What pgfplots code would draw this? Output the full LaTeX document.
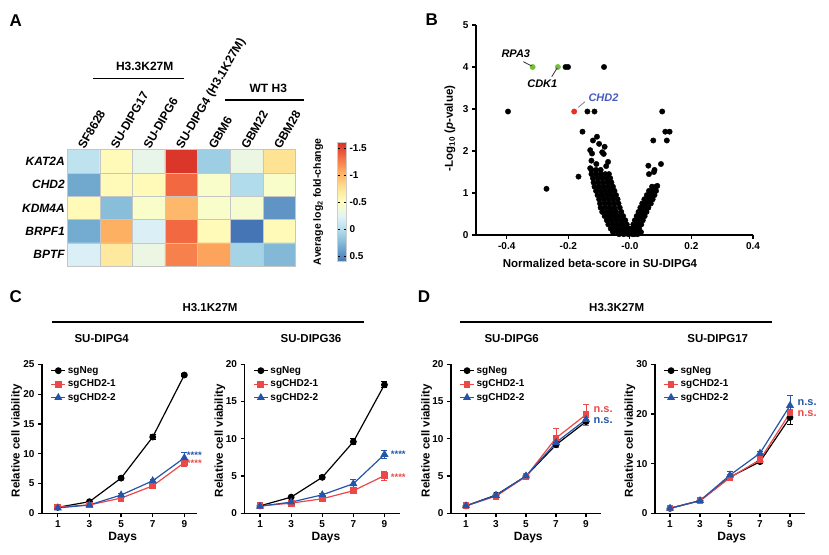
\documentclass[border=0pt]{standalone}
\usepackage{fontspec}
\setmainfont{Liberation Sans}
\usepackage{pgfplots}
\usepackage{pgfplotstable}
\pgfplotsset{compat=1.18}
\newcommand{\fs}[1]{\fontsize{#1pt}{#1pt}\selectfont}
\definecolor{pred}{RGB}{236,72,72}
\definecolor{pblue}{RGB}{35,85,170}
\definecolor{pgreen}{RGB}{120,190,60}
\definecolor{chdblue}{RGB}{70,90,190}
\definecolor{redpt}{RGB}{235,45,40}
\pgfplotsset{
  colormap={rdylbu}{rgb255=(215,48,39) rgb255=(244,109,67) rgb255=(253,174,97) rgb255=(254,224,144) rgb255=(255,255,191) rgb255=(224,243,248) rgb255=(171,217,233) rgb255=(116,173,209) rgb255=(69,117,180)},
  error bars/error bar style={line width=1pt},
  error bars/error mark options={rotate=90, mark size=3pt, line width=1pt},
  prism/.style={scale only axis, anchor=south west, height=149pt,
    axis x line*=bottom, axis y line*=left,
    axis line style={line width=1.2pt, -},
    every tick/.style={line width=1.2pt, black},
    tick align=outside, major tick length=4pt,
    ymin=0, xmin=0, xtick={1,3,5,7,9},
    tick label style={font=\bfseries\fs{10}},
    /pgf/number format/assume math mode=true, clip=false,
    legend style={draw=none, fill=none, font=\bfseries\fs{10}, at={(0.055,1.0)}, anchor=north west, row sep=1pt, inner sep=0pt},
    legend cell align=left,
    legend image code/.code={\draw[mark repeat=2,mark phase=2] plot coordinates {(0pt,0pt) (7pt,0pt) (14pt,0pt)};}},
  sneg/.style={black, line width=1.2pt, mark=*, mark size=2.8pt, error bars/.cd, y dir=both, y explicit},
  sa/.style={pred, line width=1.2pt, mark=square*, mark size=2.8pt, error bars/.cd, y dir=both, y explicit},
  sb/.style={pblue, line width=1.2pt, mark=triangle*, mark size=3.5pt, error bars/.cd, y dir=both, y explicit},
}
\pgfplotstableread{
x y c
0 0 -0.05
1 0 -0.55
2 0 -0.30
3 0 -1.58
4 0 0.12
5 0 -0.33
6 0 -0.75
0 1 0.35
1 1 -0.55
2 1 -0.55
3 1 -1.35
4 1 -0.45
5 1 0.02
6 1 -0.45
0 2 -0.55
1 2 0.22
2 2 -0.45
3 2 -1.00
4 2 -0.45
5 2 -0.42
6 2 0.45
0 3 0.33
1 3 -1.05
2 3 -0.20
3 3 -1.35
4 3 -0.55
5 3 0.60
6 3 -0.55
0 4 -0.20
1 4 -0.70
2 4 -0.33
3 4 -1.25
4 4 -1.10
5 4 0.08
6 4 0.25
}\heat
\begin{document}
\begin{tikzpicture}
\useasboundingbox (0pt,0pt) rectangle (829pt,554pt);
% ---------------- Panel A ----------------
\node[font=\bfseries\fs{17}] at (15.8pt,533.3pt) {A};
\begin{axis}[at={(67.3pt,287.7pt)}, anchor=south west, scale only axis,
  width=228.4pt, height=116.7pt,
  xmin=-0.5, xmax=6.5, ymin=-0.5, ymax=4.5, y dir=reverse,
  xtick={0,...,6}, xticklabels={SF8628,SU-DIPG17,SU-DIPG6,SU-DIPG4 (H3.1K27M),GBM6,GBM22,GBM28},
  xticklabel pos=upper,
  xticklabel style={rotate=60, anchor=base west, font=\bfseries\fs{12}, xshift=-3pt, yshift=-1pt},
  ytick={0,...,4}, yticklabels={KAT2A,CHD2,KDM4A,BRPF1,BPTF},
  yticklabel style={font=\bfseries\itshape\fs{12}, xshift=1pt},
  major tick length=0pt, minor tick length=0pt,
  minor xtick={0.5,1.5,...,5.5}, minor ytick={0.5,1.5,...,3.5},
  xminorgrids, yminorgrids, minor grid style={gray!45, line width=0.8pt},
  axis line style={gray!45, line width=0.8pt}, axis on top,
  colormap name=rdylbu, point meta min=-1.61, point meta max=0.60,
  colorbar,
  colorbar style={at={(parent axis.north east)}, anchor=north west, xshift=32.8pt, yshift=7.5pt,
    scale only axis, width=9pt, height=119.5pt, y dir=reverse,
    ytick={-1.5,-1,-0.5,0,0.5}, yticklabels={-1.5,-1,-0.5,0,0.5},
    yticklabel style={font=\bfseries\fs{10}},
    major tick length=2.5pt, axis line style={gray!40},
    every tick/.style={black, line width=0.8pt}}]
\addplot[matrix plot*, point meta=explicit, mesh/cols=7] table[meta=c] {\heat};
\end{axis}
\node[font=\bfseries\fs{12}] at (144.7pt,487.3pt) {H3.3K27M};
\draw[line width=1.1pt] (93.3pt,475.7pt) -- (184pt,475.7pt);
\node[font=\bfseries\fs{12}] at (268.3pt,465.7pt) {WT H3};
\draw[line width=1.1pt] (225pt,454pt) -- (304pt,454pt);
\node[rotate=90, font=\bfseries\fs{10.5}] at (318.3pt,352.3pt) {Average log\textsubscript{2} fold-change};
% ---------------- Panel B ----------------
\node[font=\bfseries\fs{17}] at (431.7pt,534pt) {B};
\begin{axis}[at={(476pt,319pt)}, anchor=south west, scale only axis, width=277pt, height=210pt,
  xmin=-0.5, xmax=0.4, ymin=0, ymax=5,
  axis x line*=bottom, axis y line*=left,
  axis line style={line width=1.2pt, -},
  every tick/.style={line width=1.2pt, black},
  tick align=outside, major tick length=4pt,
  xtick={-0.4,-0.2,0,0.2,0.4}, xticklabels={-0.4,-0.2,-0.0,0.2,0.4},
  ytick={0,1,...,5},
  tick label style={font=\bfseries\fs{10}},
  /pgf/number format/assume math mode=true, clip=false]
\addplot[only marks, mark=*, mark size=2.7pt, black] coordinates {
(-0.125,1.55) (-0.11,1.55) (-0.095,1.55)
(-0.125,1.45) (-0.11,1.45) (-0.095,1.45) (-0.08,1.45) (-0.068,1.45)
(-0.12,1.35) (-0.105,1.35) (-0.09,1.35) (-0.075,1.35) (-0.064,1.35)
(-0.118,1.25) (-0.103,1.25) (-0.088,1.25) (-0.073,1.25) (-0.06,1.25)
(-0.115,1.15) (-0.1,1.15) (-0.085,1.15) (-0.07,1.15) (-0.055,1.15)
(-0.11,1.05) (-0.095,1.05) (-0.08,1.05) (-0.065,1.05) (-0.05,1.05)
(-0.105,0.95) (-0.09,0.95) (-0.075,0.95) (-0.06,0.95) (-0.045,0.95)
(-0.1,0.85) (-0.085,0.85) (-0.07,0.85) (-0.055,0.85) (-0.04,0.85)
(-0.097,0.75) (-0.082,0.75) (-0.067,0.75) (-0.052,0.75) (-0.037,0.75)
(-0.095,0.65) (-0.08,0.65) (-0.065,0.65) (-0.05,0.65) (-0.033,0.65)
(-0.09,0.55) (-0.075,0.55) (-0.06,0.55) (-0.045,0.55) (-0.028,0.55)
(-0.082,0.45) (-0.067,0.45) (-0.052,0.45) (-0.037,0.45) (-0.022,0.45)
(-0.075,0.35) (-0.06,0.35) (-0.045,0.35) (-0.03,0.35) (-0.015,0.35)
(-0.07,0.25) (-0.055,0.25) (-0.04,0.25) (-0.025,0.25) (-0.01,0.25)
(-0.062,0.15) (-0.047,0.15) (-0.032,0.15) (-0.017,0.15) (-0.003,0.15)
(-0.055,0.07) (-0.04,0.07) (-0.025,0.07) (-0.01,0.07) (0.003,0.07)
(-0.035,0.02) (-0.02,0.02) (-0.005,0.02) (0.008,0.02)
(0.072,1.15) (0.085,1.15)
(0.062,1.05) (0.075,1.05) (0.085,1.05)
(0.055,0.95) (0.068,0.95) (0.08,0.95)
(0.047,0.85) (0.06,0.85) (0.074,0.85)
(0.04,0.75) (0.054,0.75) (0.068,0.75)
(0.034,0.65) (0.047,0.65) (0.06,0.65)
(0.028,0.55) (0.041,0.55) (0.054,0.55)
(0.022,0.45) (0.035,0.45) (0.048,0.45)
(0.016,0.35) (0.029,0.35) (0.042,0.35)
(0.011,0.25) (0.024,0.25) (0.037,0.25)
(0.006,0.15) (0.018,0.15) (0.03,0.15)
(0.0,0.07) (0.012,0.07) (0.024,0.07) (0.036,0.07)
(0.015,0.02) (0.025,0.02)
(-0.209,4.0) (-0.201,4.0) (-0.084,4.0)
(-0.396,2.94) (-0.138,2.94) (-0.115,2.94) (0.105,2.94)
(-0.154,2.46) (0.115,2.46) (0.129,2.46)
(-0.271,1.10) (-0.167,1.39)
(0.076,2.25) (0.120,2.25) (0.101,1.69) (0.060,1.65) (0.080,1.55) (0.078,1.50) (0.062,1.45) (0.089,1.17)
(-0.107,2.34) (-0.12,2.25) (-0.10,2.17) (-0.082,2.10) (-0.129,2.02) (-0.123,1.94) (-0.09,1.97) (-0.085,1.93)
(-0.125,1.77) (-0.071,1.74) (-0.077,1.64) (-0.109,1.69) (-0.129,1.59)
};
\addplot[only marks, mark=*, mark size=2.7pt, pgreen] coordinates {(-0.316,4.0) (-0.234,4.0)};
\addplot[only marks, mark=*, mark size=2.7pt, redpt] coordinates {(-0.181,2.94)};
\end{axis}
\node[rotate=90, font=\bfseries\fs{11.5}] at (450pt,425.7pt) {-Log\textsubscript{10} (\textit{p}-value)};
\node[font=\bfseries\fs{11.5}] at (600pt,290.7pt) {Normalized beta-score in SU-DIPG4};
\node[font=\bfseries\itshape\fs{11}] at (515.8pt,500.7pt) {RPA3};
\node[font=\bfseries\itshape\fs{11}] at (542.3pt,470.7pt) {CDK1};
\node[font=\bfseries\itshape\fs{11}, text=chdblue] at (603.5pt,456.7pt) {CHD2};
\draw[black!80, line width=0.8pt] (523.3pt,492.3pt) -- (531.7pt,488pt);
\draw[black!80, line width=0.8pt] (551.7pt,477.3pt) -- (557.3pt,486.3pt);
\draw[gray, line width=0.8pt] (578.3pt,446.7pt) -- (585pt,452.3pt);
% ---------------- Panel C ----------------
\node[font=\bfseries\fs{17}] at (15.8pt,257.3pt) {C};
\node[font=\bfseries\fs{11.5}] at (210pt,246pt) {H3.1K27M};
\draw[line width=1.1pt] (52pt,232pt) -- (364pt,232pt);
\node[font=\bfseries\fs{11.5}] at (101.7pt,215pt) {SU-DIPG4};
\node[font=\bfseries\fs{11.5}] at (311pt,215pt) {SU-DIPG36};
\begin{axis}[prism, at={(42pt,40.7pt)}, width=155pt, xmax=9.8, ymax=25, ytick={0,5,...,25}]
\addplot[sneg] coordinates {(1,1.0) +- (0,0.1) (3,1.95) +- (0,0.1) (5,5.9) +- (0,0.2) (7,12.8) +- (0,0.5) (9,23.2) +- (0,0.3)};
\addplot[sa] coordinates {(1,1.05) +- (0,0.2) (3,1.4) +- (0,0.1) (5,2.55) +- (0,0.2) (7,4.6) +- (0,0.5) (9,8.5) +- (0,0.7)};
\addplot[sb] coordinates {(1,0.9) +- (0,0.1) (3,1.4) +- (0,0.1) (5,3.07) +- (0,0.2) (7,5.45) +- (0,0.3) (9,9.3) +- (0,0.9)};
\legend{sgNeg,sgCHD2-1,sgCHD2-2}
\node[anchor=west, text=pblue, font=\bfseries\fs{9.5}, inner sep=0pt] at (axis cs:9.15,9.8) {****};
\node[anchor=west, text=pred, font=\bfseries\fs{9.5}, inner sep=0pt] at (axis cs:9.15,8.4) {****};
\end{axis}
\node[rotate=90, font=\bfseries\fs{11.5}] at (16.7pt,113.2pt) {Relative cell viability};
\node[font=\bfseries\fs{12}] at (122.7pt,16.3pt) {Days};
\begin{axis}[prism, at={(244.5pt,40.7pt)}, width=155.5pt, xmax=10, ymax=20, ytick={0,5,...,20}]
\addplot[sneg] coordinates {(1,1.0) +- (0,0.1) (3,2.17) +- (0,0.1) (5,4.83) +- (0,0.2) (7,9.6) +- (0,0.4) (9,17.25) +- (0,0.4)};
\addplot[sa] coordinates {(1,1.0) +- (0,0.2) (3,1.36) +- (0,0.1) (5,1.95) +- (0,0.2) (7,3.03) +- (0,0.3) (9,5.06) +- (0,0.6)};
\addplot[sb] coordinates {(1,0.95) +- (0,0.1) (3,1.5) +- (0,0.1) (5,2.48) +- (0,0.2) (7,3.97) +- (0,0.5) (9,7.9) +- (0,0.5)};
\legend{sgNeg,sgCHD2-1,sgCHD2-2}
\node[anchor=west, text=pblue, font=\bfseries\fs{9.5}, inner sep=0pt] at (axis cs:9.4,7.9) {****};
\node[anchor=west, text=pred, font=\bfseries\fs{9.5}, inner sep=0pt] at (axis cs:9.4,4.9) {****};
\end{axis}
\node[rotate=90, font=\bfseries\fs{11.5}] at (220pt,113.2pt) {Relative cell viability};
\node[font=\bfseries\fs{12}] at (326pt,16.3pt) {Days};
% ---------------- Panel D ----------------
\node[font=\bfseries\fs{17}] at (424pt,257.3pt) {D};
\node[font=\bfseries\fs{11.5}] at (616.7pt,246pt) {H3.3K27M};
\draw[line width=1.1pt] (460pt,232pt) -- (771.7pt,232pt);
\node[font=\bfseries\fs{11.5}] at (511.7pt,215pt) {SU-DIPG6};
\node[font=\bfseries\fs{11.5}] at (717.7pt,215pt) {SU-DIPG17};
\begin{axis}[prism, at={(451pt,40.7pt)}, width=150pt, xmax=10, ymax=20, ytick={0,5,...,20}]
\addplot[sneg] coordinates {(1,1.0) +- (0,0.1) (3,2.45) +- (0,0.1) (5,5.0) +- (0,0.2) (7,9.2) +- (0,0.4) (9,12.3) +- (0,0.5)};
\addplot[sa] coordinates {(1,1.0) +- (0,0.2) (3,2.3) +- (0,0.1) (5,4.95) +- (0,0.2) (7,10.1) +- (0,1.3) (9,13.25) +- (0,1.4)};
\addplot[sb] coordinates {(1,1.0) +- (0,0.1) (3,2.4) +- (0,0.1) (5,5.0) +- (0,0.2) (7,9.5) +- (0,0.3) (9,12.6) +- (0,0.4)};
\legend{sgNeg,sgCHD2-1,sgCHD2-2}
\node[anchor=west, text=pred, font=\bfseries\fs{11}, inner sep=0pt] at (axis cs:9.5,13.9) {n.s.};
\node[anchor=west, text=pblue, font=\bfseries\fs{11}, inner sep=0pt] at (axis cs:9.5,12.5) {n.s.};
\end{axis}
\node[rotate=90, font=\bfseries\fs{11.5}] at (426.7pt,113.2pt) {Relative cell viability};
\node[font=\bfseries\fs{12}] at (528.3pt,16.3pt) {Days};
\begin{axis}[prism, at={(655pt,40.7pt)}, width=150pt, xmax=10, ymax=30, ytick={0,10,20,30}]
\addplot[sneg] coordinates {(1,1.0) +- (0,0.1) (3,2.55) +- (0,0.1) (5,7.3) +- (0,0.3) (7,10.4) +- (0,0.4) (9,19.3) +- (0,1.4)};
\addplot[sa] coordinates {(1,1.05) +- (0,0.3) (3,2.5) +- (0,0.1) (5,7.2) +- (0,0.3) (7,10.8) +- (0,0.5) (9,20.2) +- (0,0.6)};
\addplot[sb] coordinates {(1,1.0) +- (0,0.1) (3,2.55) +- (0,0.1) (5,7.7) +- (0,0.8) (7,12.1) +- (0,0.4) (9,21.7) +- (0,2.1)};
\legend{sgNeg,sgCHD2-1,sgCHD2-2}
\node[anchor=west, text=pblue, font=\bfseries\fs{11}, inner sep=0pt] at (axis cs:9.5,22.3) {n.s.};
\node[anchor=west, text=pred, font=\bfseries\fs{11}, inner sep=0pt] at (axis cs:9.5,20.0) {n.s.};
\end{axis}
\node[rotate=90, font=\bfseries\fs{11.5}] at (630pt,113.2pt) {Relative cell viability};
\node[font=\bfseries\fs{12}] at (731.7pt,16.3pt) {Days};
\end{tikzpicture}
\end{document}
